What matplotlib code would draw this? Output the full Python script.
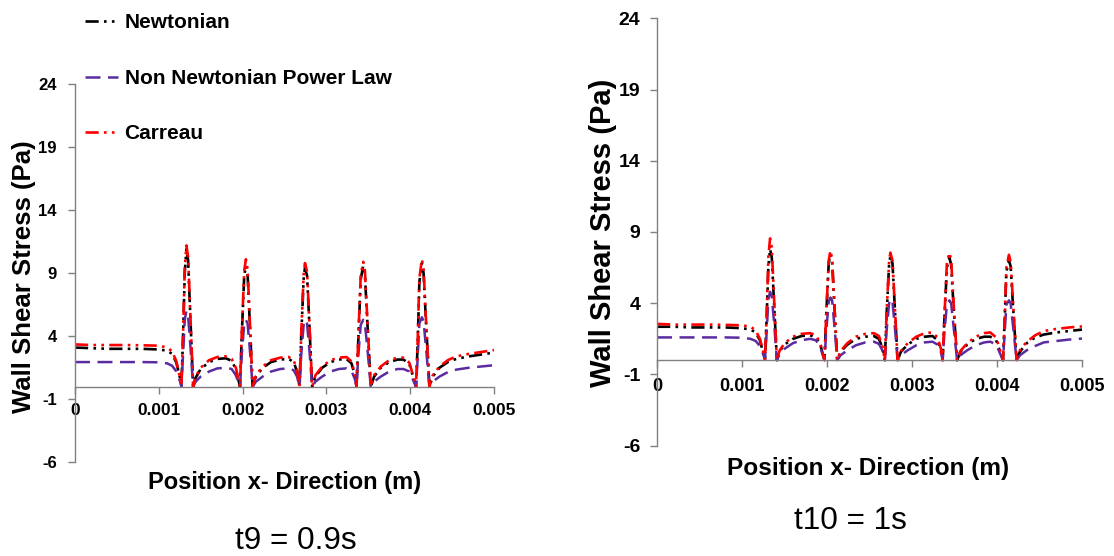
import matplotlib
matplotlib.use('Agg')
import matplotlib.pyplot as plt

plt.rcParams['font.family'] = ['Liberation Sans', 'DejaVu Sans']

# ---------------- data ----------------
x_pos = [0, 0.0002, 0.0004, 0.0006, 0.0008, 0.0010, 0.00110, 0.00116, 0.00121, 0.00125,
         0.00127, 0.00129, 0.00131, 0.00133, 0.00135, 0.00138, 0.00141, 0.00144, 0.00150, 0.00160,
         0.00170, 0.00180, 0.00187, 0.00192, 0.00197, 0.00199, 0.00202, 0.00204, 0.00206, 0.00209,
         0.00212, 0.00216, 0.00224, 0.00234, 0.00245, 0.00255, 0.00261, 0.00265, 0.00268, 0.00270,
         0.00273, 0.002745, 0.00277, 0.00280, 0.00283, 0.00287, 0.00295, 0.00305, 0.00315, 0.00324,
         0.00330, 0.00334, 0.00336, 0.00338, 0.00341, 0.00344, 0.00346, 0.00349, 0.00353, 0.00357,
         0.00365, 0.00375, 0.00385, 0.00392, 0.00399, 0.00403, 0.00407, 0.00409, 0.00411, 0.00414,
         0.00416, 0.00419, 0.00423, 0.00427, 0.00435, 0.00445, 0.00455, 0.00470, 0.00485, 0.00500]

# t9 = 0.9 s
t9_newtonian = [3.1, 3.05, 3.0, 3.0, 3.0, 2.95, 2.85, 2.6, 1.9, 0.8,
                0.05, 4.0, 9.0, 10.9, 10.0, 5.0, 0.0, 0.7, 1.4, 1.95,
                2.2, 2.25, 2.05, 1.4, 0.0, 4.0, 8.8, 9.6, 8.9, 4.5,
                0.0, 0.8, 1.5, 1.95, 2.15, 2.2, 1.95, 1.2, 0.0, 4.0,
                8.7, 9.4, 8.8, 4.5, 0.0, 0.8, 1.5, 1.95, 2.15, 2.2,
                1.85, 0.9, 0.0, 3.5, 8.5, 9.6, 8.9, 5.0, 0.0, 0.8,
                1.5, 1.95, 2.15, 2.15, 1.8, 0.9, 0.0, 3.5, 8.3, 9.8,
                9.0, 5.0, 0.0, 0.8, 1.5, 1.95, 2.2, 2.4, 2.55, 2.7]
t9_power_law = [1.95, 1.95, 1.95, 1.95, 1.95, 1.93, 1.85, 1.65, 1.2, 0.5,
                0.05, 2.5, 5.3, 6.0, 5.6, 3.0, 0.0, 0.4, 0.8, 1.2,
                1.45, 1.5, 1.4, 0.9, 0.0, 2.5, 5.0, 5.3, 5.0, 2.7,
                0.0, 0.4, 0.8, 1.2, 1.4, 1.45, 1.3, 0.8, 0.0, 2.5,
                5.0, 5.3, 5.0, 2.7, 0.0, 0.4, 0.8, 1.2, 1.4, 1.45,
                1.25, 0.6, 0.0, 2.3, 4.9, 5.3, 5.0, 3.0, 0.0, 0.4,
                0.8, 1.2, 1.4, 1.4, 1.2, 0.6, 0.0, 2.3, 5.0, 5.5,
                5.2, 3.0, 0.0, 0.4, 0.8, 1.15, 1.35, 1.5, 1.6, 1.7]
t9_carreau = [3.35, 3.3, 3.3, 3.3, 3.28, 3.25, 3.1, 2.8, 2.0, 0.8,
              0.05, 4.2, 9.4, 11.2, 10.3, 5.2, 0.0, 0.8, 1.5, 2.1,
              2.35, 2.4, 2.2, 1.5, 0.0, 4.2, 9.2, 10.1, 9.3, 4.7,
              0.0, 0.9, 1.6, 2.1, 2.3, 2.35, 2.1, 1.3, 0.0, 4.2,
              9.0, 9.8, 9.1, 4.7, 0.0, 0.9, 1.6, 2.1, 2.3, 2.35,
              2.0, 1.0, 0.0, 3.7, 8.8, 9.9, 9.2, 5.2, 0.0, 0.9,
              1.6, 2.1, 2.3, 2.3, 1.9, 1.0, 0.0, 3.7, 8.6, 10.1,
              9.3, 5.2, 0.0, 0.9, 1.6, 2.1, 2.4, 2.6, 2.75, 2.9]

# t10 = 1 s
t10_newtonian = [2.35, 2.35, 2.3, 2.3, 2.3, 2.25, 2.15, 1.95, 1.4, 0.5,
                 0.05, 3.0, 6.6, 7.8, 7.2, 3.6, 0.0, 0.6, 1.1, 1.5,
                 1.7, 1.75, 1.6, 1.1, 0.0, 3.1, 6.8, 7.45, 6.9, 3.4,
                 0.0, 0.6, 1.1, 1.5, 1.65, 1.7, 1.5, 0.9, 0.0, 3.1,
                 6.7, 7.3, 6.8, 3.4, 0.0, 0.6, 1.1, 1.5, 1.65, 1.7,
                 1.4, 0.7, 0.0, 2.8, 6.5, 7.2, 6.7, 3.6, 0.0, 0.6,
                 1.1, 1.5, 1.65, 1.65, 1.4, 0.7, 0.0, 2.8, 6.2, 7.0,
                 6.6, 3.6, 0.0, 0.6, 1.2, 1.6, 1.8, 1.95, 2.05, 2.15]
t10_power_law = [1.6, 1.6, 1.6, 1.6, 1.6, 1.58, 1.5, 1.35, 1.0, 0.4,
                 0.05, 2.0, 4.3, 4.8, 4.5, 2.4, 0.0, 0.4, 0.8, 1.2,
                 1.4, 1.5, 1.4, 0.9, 0.0, 2.0, 4.1, 4.4, 4.2, 2.2,
                 0.0, 0.35, 0.7, 1.05, 1.25, 1.3, 1.15, 0.7, 0.0, 2.0,
                 4.0, 4.3, 4.1, 2.2, 0.0, 0.35, 0.7, 1.05, 1.25, 1.3,
                 1.1, 0.55, 0.0, 1.9, 3.9, 4.2, 4.0, 2.3, 0.0, 0.35,
                 0.7, 1.05, 1.25, 1.3, 1.1, 0.55, 0.0, 1.9, 3.9, 4.2,
                 4.0, 2.3, 0.0, 0.35, 0.7, 1.0, 1.25, 1.35, 1.45, 1.52]
t10_carreau = [2.55, 2.5, 2.5, 2.5, 2.48, 2.45, 2.35, 2.1, 1.5, 0.6,
               0.05, 3.2, 7.3, 8.55, 7.9, 3.9, 0.0, 0.65, 1.2, 1.65,
               1.85, 1.9, 1.75, 1.2, 0.0, 3.2, 7.0, 7.7, 7.1, 3.5,
               0.0, 0.65, 1.2, 1.65, 1.85, 1.9, 1.7, 1.0, 0.0, 3.2,
               6.9, 7.55, 7.0, 3.5, 0.0, 0.65, 1.2, 1.65, 1.9, 1.95,
               1.6, 0.8, 0.0, 2.9, 6.8, 7.55, 7.0, 3.9, 0.0, 0.65,
               1.2, 1.65, 1.9, 1.95, 1.6, 0.8, 0.0, 2.9, 6.5, 7.4,
               6.9, 3.9, 0.0, 0.7, 1.3, 1.75, 2.05, 2.2, 2.3, 2.37]

series_labels = ['Newtonian', 'Non Newtonian Power Law', 'Carreau']
y_ticks = [-6, -1, 4, 9, 14, 19, 24]
x_ticks = [0, 0.001, 0.002, 0.003, 0.004, 0.005]
x_tick_labels = ['0', '0.001', '0.002', '0.003', '0.004', '0.005']
captions = ['t9 = 0.9s', 't10 = 1s']
y_title = 'Wall Shear Stress (Pa)'
x_title = 'Position x- Direction (m)'

# ---------------- styles ----------------
dash_dot_dot = (0, (5, 2, 1, 2, 1, 2))
styles = [
    dict(color='black', linestyle=dash_dot_dot, lw=1.9),
    dict(color='#5b2ca0', linestyle=(0, (6, 3)), lw=1.8),
    dict(color='#ff0000', linestyle=dash_dot_dot, lw=1.9),
]
grey = '#808080'

fig = plt.figure(figsize=(11.14, 5.56), dpi=100)
ax1 = fig.add_axes([0.0673, 0.1685, 0.3761, 0.6804])
ax2 = fig.add_axes([0.5898, 0.1984, 0.3815, 0.7687])


def style_axes(ax, ytick_fs, xtick_fs, xpad, ypad):
    ax.set_xlim(0, 0.005)
    ax.set_ylim(-6, 24)
    ax.spines['top'].set_visible(False)
    ax.spines['right'].set_visible(False)
    ax.spines['bottom'].set_position(('data', 0))
    for s in ('left', 'bottom'):
        ax.spines[s].set_color(grey)
        ax.spines[s].set_linewidth(1.0)
    ax.tick_params(direction='out', length=5, width=1, color=grey, labelcolor='black')
    ax.tick_params(axis='x', pad=xpad, labelsize=xtick_fs)
    ax.tick_params(axis='y', pad=ypad, labelsize=ytick_fs)
    ax.set_yticks(y_ticks)
    ax.set_yticklabels([str(v) for v in y_ticks], fontsize=ytick_fs, fontweight='bold')
    ax.set_xticks(x_ticks)
    ax.set_xticklabels(x_tick_labels, fontsize=xtick_fs, fontweight='bold')
    ax.patch.set_alpha(0)


lines = []
for ax, data in ((ax1, (t9_newtonian, t9_power_law, t9_carreau)),
                 (ax2, (t10_newtonian, t10_power_law, t10_carreau))):
    ls = []
    for ys, st, lab in zip(data, styles, series_labels):
        ln, = ax.plot(x_pos, ys, label=lab, **st)
        ls.append(ln)
    lines.append(ls)

style_axes(ax1, 12, 12.4, 7, 8)
style_axes(ax2, 14, 13, 8, 7)

# legend
fig.legend(lines[0], series_labels, loc='upper left', bbox_to_anchor=(0.0763, 0.976),
           frameon=False, prop={'weight': 'bold', 'size': 15}, handlelength=1.6,
           handletextpad=0.3, labelspacing=1.75, borderaxespad=0, borderpad=0)

# axis titles
fig.text(24 / 1114, 1 - 276.5 / 556, y_title, rotation=90, ha='center', va='center',
         fontsize=18.5, fontweight='bold')
fig.text(603 / 1114, 1 - 232.5 / 556, y_title, rotation=90, ha='center', va='center',
         fontsize=21, fontweight='bold')
fig.text(284.5 / 1114, 1 - 482 / 556, x_title, ha='center', va='center',
         fontsize=17, fontweight='bold')
fig.text(868.5 / 1114, 1 - 469 / 556, x_title, ha='center', va='center',
         fontsize=17.6, fontweight='bold')

# captions
fig.text(296 / 1114, 1 - 541 / 556, captions[0], ha='center', va='center', fontsize=22.7)
fig.text(850 / 1114, 1 - 521 / 556, captions[1], ha='center', va='center', fontsize=22.7)

fig.savefig('out.png', dpi=100)
